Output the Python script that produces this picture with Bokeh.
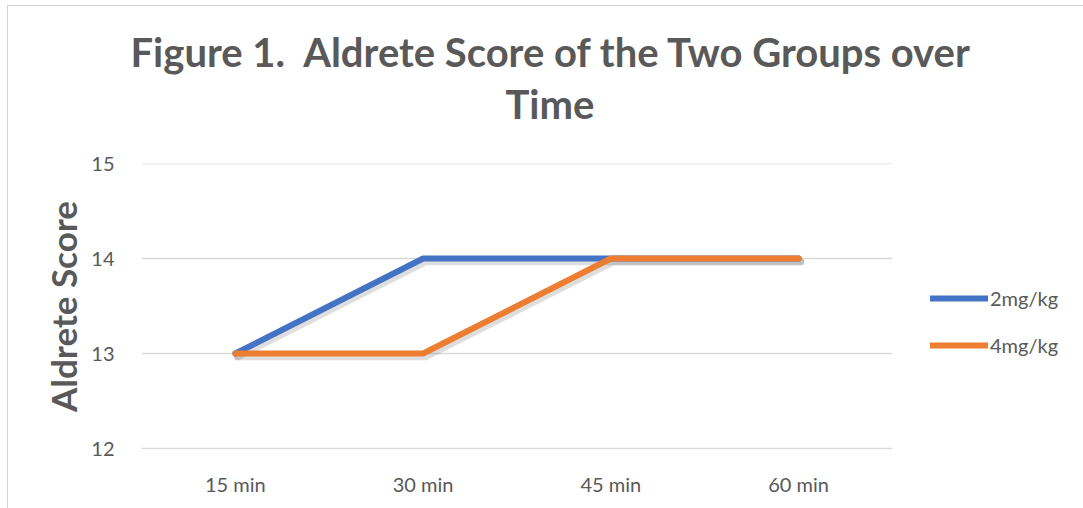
from bokeh.plotting import figure
from bokeh.models import ColumnDataSource, FactorRange, Range1d, Title, Legend, LegendItem, FixedTicker, Span
from bokeh.transform import dodge
from bokeh.embed import file_html
from bokeh.resources import INLINE

categories = ["15 min", "30 min", "45 min", "60 min"]
series_2mg = [13, 14, 14, 14]
series_4mg = [13, 13, 14, 14]
y_ticks = [12, 13, 14, 15]
title_line1 = "Figure 1.\u00a0\u00a0Aldrete Score of the Two Groups over"
title_line2 = "Time"

FONT = "Lato"
GRAY = "#595959"

src = ColumnDataSource(dict(x=categories, a=series_2mg, b=series_4mg))

p = figure(frame_width=751, frame_height=286, x_range=FactorRange(*categories),
           y_range=Range1d(11.99, 15), output_backend="svg", toolbar_location=None,
           min_border_left=133, min_border_right=191, min_border_top=157, min_border_bottom=59,
           styles={"margin-left": "7px", "margin-top": "5px",
                   "border-left": "1px solid #D4D4D4", "border-top": "1px solid #D4D4D4"})
p.title = None
p.outline_line_color = None

p.xgrid.grid_line_color = None
p.ygrid.grid_line_color = None
for t in y_ticks:
    p.add_layout(Span(location=t, dimension="width", line_color="#D9D9D9", line_width=1.5, level="underlay"))

# shadows
for col in ("a", "b"):
    p.line(x=dodge("x", 0.012, range=p.x_range), y=dodge(col, -0.035), source=src,
           line_color="#000000", line_alpha=0.13, line_width=7, line_cap="round", line_join="round")

r1 = p.line("x", "a", source=src, line_color="#4472C4", line_width=6, line_cap="round")
r2 = p.line("x", "b", source=src, line_color="#ED7D31", line_width=6, line_cap="round")

legend = Legend(items=[LegendItem(label="2mg/kg", renderers=[r1]),
                       LegendItem(label="4mg/kg", renderers=[r2])],
                location=(38, 92), glyph_width=58, glyph_height=24, label_height=24,
                label_standoff=2, spacing=23,
                label_text_font=FONT, label_text_font_size="20px", label_text_color=GRAY,
                border_line_color=None, background_fill_alpha=0, padding=0, margin=0)
p.add_layout(legend, "right")

p.yaxis.ticker = FixedTicker(ticks=y_ticks)
for ax in (p.xaxis[0], p.yaxis[0]):
    ax.axis_line_color = None
    ax.major_tick_line_color = None
    ax.minor_tick_line_color = None
    ax.major_label_text_font = FONT
    ax.major_label_text_font_size = "20px"
    ax.major_label_text_color = GRAY
p.yaxis.major_label_standoff = 21
p.xaxis.major_label_standoff = 16
p.yaxis.axis_label = "Aldrete Score"
p.yaxis.axis_label_text_font = FONT
p.yaxis.axis_label_text_font_style = "bold"
p.yaxis.axis_label_text_font_size = "35px"
p.yaxis.axis_label_text_color = GRAY
p.yaxis.axis_label_standoff = 4

t2 = Title(text=title_line2, align="left", text_font=FONT, text_font_size="40px",
           text_font_style="bold", text_color=GRAY, offset=364, standoff=71)
t1 = Title(text=title_line1, align="left", text_font=FONT, text_font_size="40px",
           text_font_style="bold", text_color=GRAY, offset=-11, standoff=-67)
p.add_layout(t2, "above")
p.add_layout(t1, "above")

open("out.html", "w").write(file_html(p, INLINE))
